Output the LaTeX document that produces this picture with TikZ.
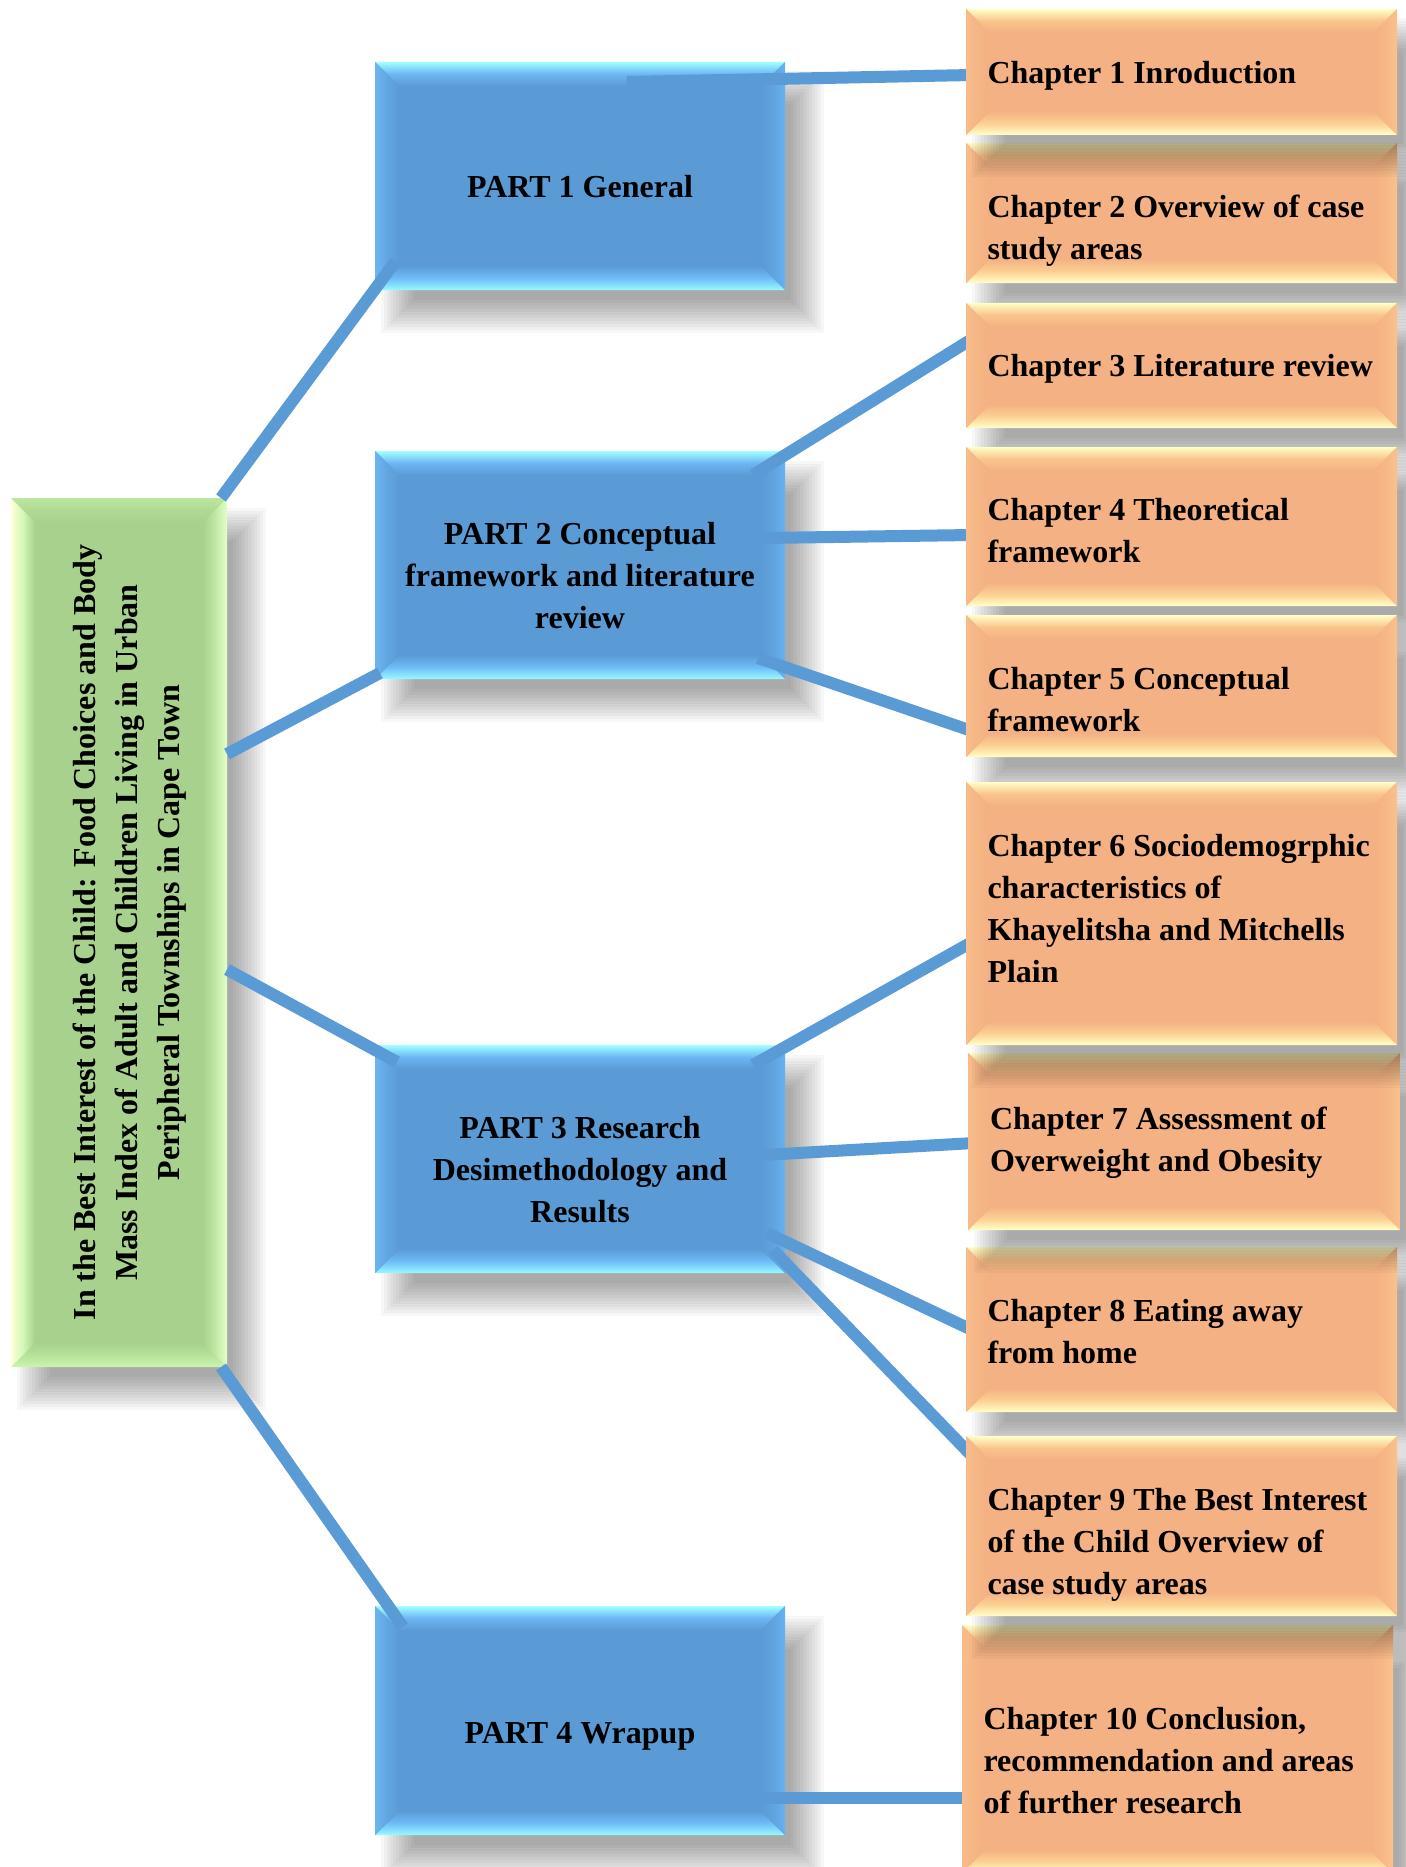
\documentclass[tikz,border=0pt]{standalone}
\usepackage{fontspec}
\setmainfont{Liberation Serif}
\usepackage{graphicx}
\usetikzlibrary{calc}

% box colours: inner, top edge/mid, bottom edge/mid, left edge/mid, right edge/mid
\definecolor{PI}{HTML}{5B9BD5}
\definecolor{PTa}{HTML}{A0FFFF}\definecolor{PTb}{HTML}{6CB6F4}
\definecolor{PBa}{HTML}{98FAFF}\definecolor{PBb}{HTML}{6EBCF8}
\definecolor{PLa}{HTML}{6EB5F0}\definecolor{PLb}{HTML}{62A6E0}
\definecolor{PRa}{HTML}{68B2F0}\definecolor{PRb}{HTML}{60A3DE}

\definecolor{CI}{HTML}{F4B183}
\definecolor{CTa}{HTML}{FFFFC8}\definecolor{CTb}{HTML}{F9C48C}
\definecolor{CBa}{HTML}{FFFFC8}\definecolor{CBb}{HTML}{FCCF92}
\definecolor{CLa}{HTML}{F8BC8B}\definecolor{CLb}{HTML}{F5B585}
\definecolor{CRa}{HTML}{FBC18C}\definecolor{CRb}{HTML}{F6B786}

\definecolor{GI}{HTML}{A9D18E}
\definecolor{GTa}{HTML}{BDE6A2}\definecolor{GTb}{HTML}{B0DA94}
\definecolor{GBa}{HTML}{CBF5B0}\definecolor{GBb}{HTML}{B6E29A}
\definecolor{GLa}{HTML}{FFFFD8}\definecolor{GLb}{HTML}{D2F7B6}
\definecolor{GRa}{HTML}{E2FFCA}\definecolor{GRb}{HTML}{C0E8A4}

\definecolor{linkc}{HTML}{5B9BD5}

% text blocks; the optional value moves the text down
\newcommand{\chtext}[2][0]{\parbox{194pt}{\vspace*{#1pt}\raggedright #2}}
\newcommand{\pttext}[2][11]{\parbox{192pt}{\vspace*{#1pt}\centering #2}}

% soft drop shadow: stacked translucent rectangles, offset down-right
% #1,#2 centre, #3,#4 width and height (picture units)
\newcommand{\softshadow}[4]{%
  \foreach \k in {0,...,11}{%
    \pgfmathsetmacro\e{16.5-3*\k}%
    \fill[black, opacity=0.03]
      ({#1-#3/2-\e+22},{#2-#4/2-\e+26}) rectangle ({#1+#3/2+\e+22},{#2+#4/2+\e+26});
  }}

% shadow, then the bevelled box: style, name, cx, cy, width, height, text
\newcommand{\panel}[7]{%
  \softshadow{#3}{#4}{#5}{#6}
  \node[#1, minimum width=#5*0.5pt, minimum height=#6*0.5pt] (#2) at (#3,#4) {#7};
}

\tikzset{
  bevel/.code n args={9}{%
    \def\bvI{#1}\def\bvTa{#2}\def\bvTb{#3}\def\bvBa{#4}\def\bvBb{#5}%
    \def\bvLa{#6}\def\bvLb{#7}\def\bvRa{#8}\def\bvRb{#9}},
  bevelbox/.style={
    draw=none, inner sep=0pt, outer sep=0pt,
    path picture={
      \fill[\bvI] (path picture bounding box.south west) rectangle (path picture bounding box.north east);
      \shade[top color=\bvTa, bottom color=\bvI, middle color=\bvTb]
        (path picture bounding box.north west) -- (path picture bounding box.north east)
        -- ([xshift=-12pt,yshift=-12pt]path picture bounding box.north east)
        -- ([xshift=12pt,yshift=-12pt]path picture bounding box.north west) -- cycle;
      \shade[top color=\bvI, bottom color=\bvBa, middle color=\bvBb]
        (path picture bounding box.south west) -- (path picture bounding box.south east)
        -- ([xshift=-12pt,yshift=12pt]path picture bounding box.south east)
        -- ([xshift=12pt,yshift=12pt]path picture bounding box.south west) -- cycle;
      \shade[left color=\bvLa, right color=\bvI, middle color=\bvLb]
        (path picture bounding box.south west) -- (path picture bounding box.north west)
        -- ([xshift=12pt,yshift=-12pt]path picture bounding box.north west)
        -- ([xshift=12pt,yshift=12pt]path picture bounding box.south west) -- cycle;
      \shade[left color=\bvI, right color=\bvRa, middle color=\bvRb]
        (path picture bounding box.south east) -- (path picture bounding box.north east)
        -- ([xshift=-12pt,yshift=-12pt]path picture bounding box.north east)
        -- ([xshift=-12pt,yshift=12pt]path picture bounding box.south east) -- cycle;
    }
  },
  titlebox/.style={bevelbox, bevel={GI}{GTa}{GTb}{GBa}{GBb}{GLa}{GLb}{GRa}{GRb}},
  partbox/.style={bevelbox, bevel={PI}{PTa}{PTb}{PBa}{PBb}{PLa}{PLb}{PRa}{PRb}},
  chapbox/.style={bevelbox, bevel={CI}{CTa}{CTb}{CBa}{CBb}{CLa}{CLb}{CRa}{CRb}},
  link/.style={draw=linkc, line width=6pt},
  every node/.style={font=\fontsize{16}{21}\selectfont\bfseries}
}

\begin{document}
\begin{tikzpicture}[x=0.5pt, y=-0.5pt]
\useasboundingbox (0,0) rectangle (1405,1867);
\fill[white] (0,0) rectangle (1405,1867);

% thesis title
\panel{titlebox}{g}{119}{932.5}{216}{869}
  {\rotatebox{90}{\parbox{430pt}{\vspace*{11pt}\centering
   In the Best Interest of the Child: Food Choices and Body\\
   Mass Index of Adult and Children Living in Urban\\
   Peripheral Townships in Cape Town}}}

% the four parts
\panel{partbox}{p1}{580}{176}{410}{228}{\pttext{PART 1 General}}
\panel{partbox}{p2}{580}{565}{410}{228}{\pttext{PART 2 Conceptual\\framework and literature\\review}}
\panel{partbox}{p3}{580}{1159}{410}{228}{\pttext{PART 3 Research\\Desimethodology and\\Results}}
\panel{partbox}{p4}{580}{1720.5}{410}{229}{\pttext[16]{PART 4 Wrapup}}

% links title -> parts
\draw[link] ($(g.north east)+(-6,0)$)   -- ($(p1.south west)+(20,-28)$);
\draw[link] ($(g.north east)+(0,256)$)  -- ($(p2.south west)+(5,-6)$);
\draw[link] ($(g.east)+(0,37)$)         -- ($(p3.north west)+(22,17)$);
\draw[link] ($(g.south east)+(-6,0)$)   -- ($(p4.north west)+(28,21)$);

% links parts -> chapters
\coordinate (c1e)  at (972,75);
\coordinate (c3e)  at (972,339);
\coordinate (c4e)  at (972,535);
\coordinate (c5e)  at (972,731);
\coordinate (c6e)  at (972,942);
\coordinate (c7e)  at (974,1143);
\coordinate (c8e)  at (972,1330);
\coordinate (c9e)  at (972,1456);
\coordinate (c10e) at (968,1798);
\draw[link] ($(p1.north)+(47,20)$)        -- (c1e);
\draw[link] ($(p2.north east)+(-32,24)$)  -- (c3e);
\draw[link] ($(p2.east)+(-22,-27)$)       -- (c4e);
\draw[link] ($(p2.south east)+(-27,-21)$) -- (c5e);
\draw[link] ($(p3.north east)+(-32,20)$)  -- (c6e);
\draw[link] ($(p3.east)+(-22,-4)$)        -- (c7e);
\draw[link] ($(p3.south east)+(-18,-40)$) -- (c8e);
\draw[link] ($(p3.south east)+(-12,-23)$) -- (c9e);
\draw[link] ($(p4.east)+(-72,77.5)$)      -- (c10e);

% chapters (order chosen so that a shadow falls on the box below where needed)
\panel{chapbox}{ch2}{1181.5}{213}{431}{140}{\chtext[17.5]{Chapter 2 Overview of case\\study areas}}
\panel{chapbox}{ch1}{1181.5}{72}{431}{126}{\chtext[3.5]{Chapter 1 Inroduction}}
\panel{chapbox}{ch3}{1181.5}{365.5}{431}{125}{\chtext[3.5]{Chapter 3 Literature review}}
\panel{chapbox}{ch4}{1181.5}{526.5}{431}{159}{\chtext[4]{Chapter 4 Theoretical\\framework}}
\panel{chapbox}{ch5}{1181.5}{686}{431}{142}{\chtext[14]{Chapter 5 Conceptual\\framework}}
\panel{chapbox}{ch8}{1181.5}{1329.5}{431}{165}{\chtext[2]{Chapter 8 Eating away\\from home}}
\panel{chapbox}{ch7}{1184}{1141.5}{432}{177}{\chtext[1]{Chapter 7 Assessment of\\Overweight and Obesity}}
\panel{chapbox}{ch6}{1181.5}{913.5}{431}{263}{\chtext[-5]{Chapter 6 Sociodemogrphic\\characteristics of\\Khayelitsha and Mitchells\\Plain}}
\panel{chapbox}{ch10}{1177.5}{1749}{431}{248}{\chtext[12]{Chapter 10 Conclusion,\\recommendation and areas\\of further research}}
\panel{chapbox}{ch9}{1181.5}{1526}{431}{180}{\chtext[18.5]{Chapter 9 The Best Interest\\of the Child Overview of\\case study areas}}
\end{tikzpicture}
\end{document}
